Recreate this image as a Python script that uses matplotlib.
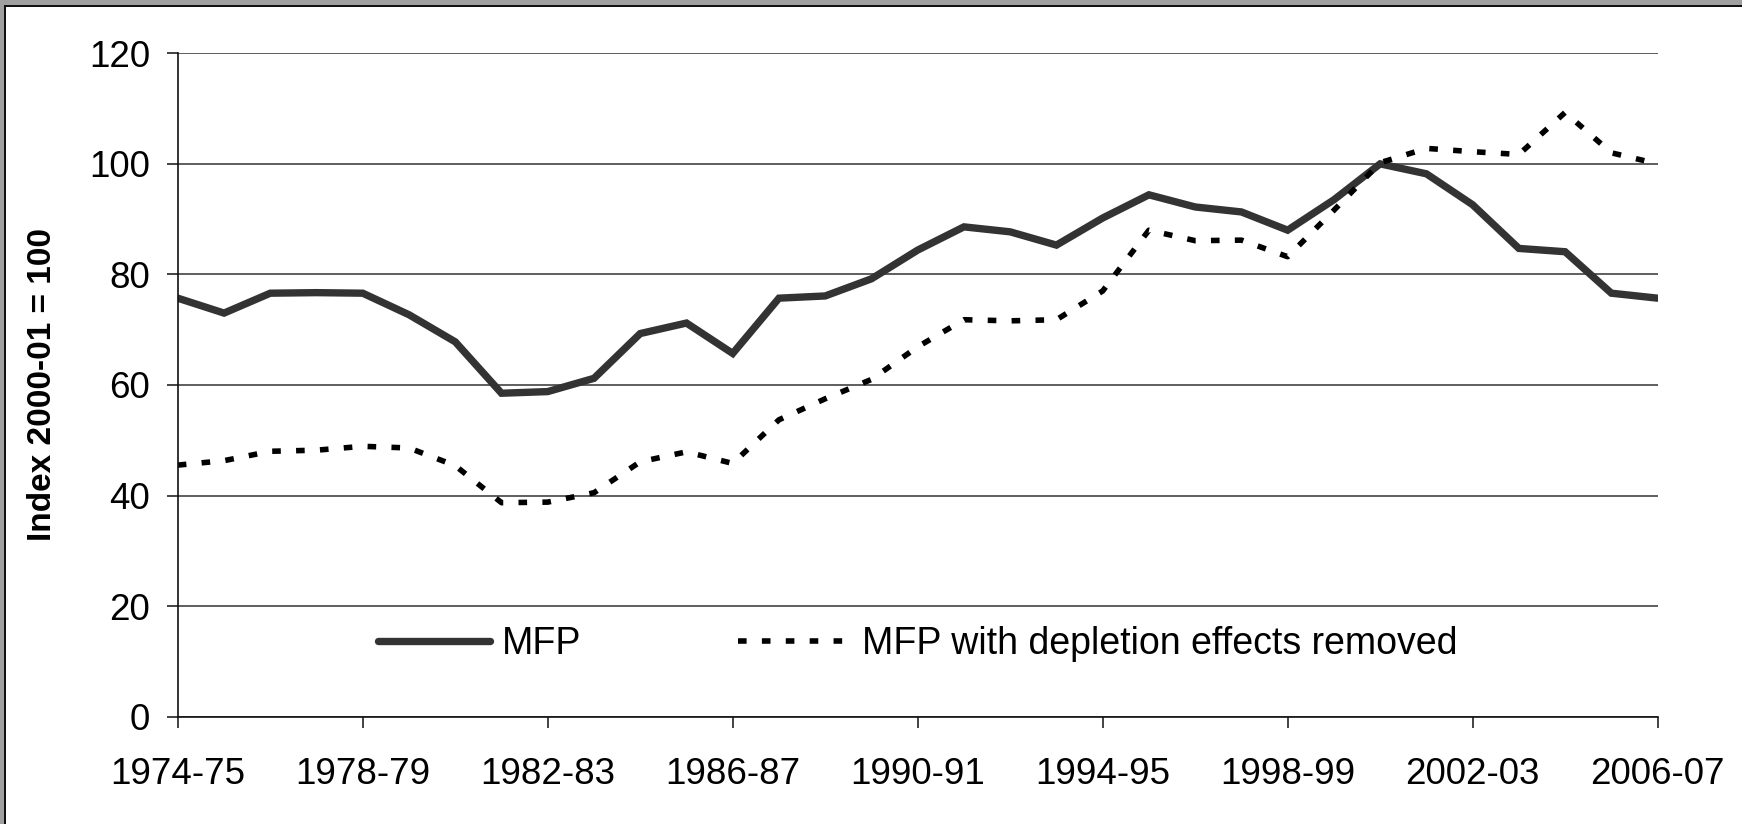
import matplotlib

matplotlib.use("Agg")

import matplotlib.pyplot as plt  # noqa: E402
from matplotlib.patches import Rectangle  # noqa: E402

plt.rcParams["font.family"] = ["Liberation Sans", "DejaVu Sans"]

# Financial years, one point per year (1974-75 .. 2006-07)
years = [f"{y}-{(y + 1) % 100:02d}" for y in range(1974, 2007)]

# Index 2000-01 = 100
mfp = [75.7, 73.0, 76.6, 76.7, 76.6, 72.7, 67.8, 58.5, 58.8, 61.2, 69.3,
       71.2, 65.7, 75.7, 76.1, 79.2, 84.4, 88.6, 87.7, 85.3, 90.2, 94.4,
       92.2, 91.3, 88.0, 93.5, 100.0, 98.2, 92.6, 84.7, 84.1, 76.6, 75.7]
mfp_no_depletion = [45.5, 46.3, 48.0, 48.2, 48.9, 48.6, 45.4, 38.7, 38.8,
                    40.5, 46.1, 47.9, 45.8, 53.7, 57.5, 61.0, 66.9, 71.8,
                    71.6, 71.8, 77.0, 88.0, 86.1, 86.2, 83.2, 91.6, 100.2,
                    102.8, 102.2, 101.7, 109.3, 102.0, 100.0]

y_ticks = [0, 20, 40, 60, 80, 100, 120]
tick_every = 4

fig = plt.figure(figsize=(17.42, 8.24), dpi=100)
fig.patch.set_facecolor("white")

# grey window frame on top/left like the screenshot
fig.add_artist(Rectangle((0, 1 - 5 / 824), 1, 5 / 824, transform=fig.transFigure,
                         facecolor="#a0a0a0", edgecolor="none"))
fig.add_artist(Rectangle((0, 1 - 7 / 824), 1, 2 / 824, transform=fig.transFigure,
                         facecolor="#111111", edgecolor="none"))
fig.add_artist(Rectangle((0, 0), 4 / 1742, 1, transform=fig.transFigure,
                         facecolor="#a0a0a0", edgecolor="none"))
fig.add_artist(Rectangle((4 / 1742, 0), 2 / 1742, 1 - 5 / 824, transform=fig.transFigure,
                         facecolor="#111111", edgecolor="none"))

ax = fig.add_axes([177.8 / 1742, 1 - 716.6 / 824, (1657.6 - 177.8) / 1742, (716.6 - 53.3) / 824])

x = list(range(len(years)))
ax.plot(x, mfp, color="#333333", linewidth=5.3, solid_capstyle="round",
        solid_joinstyle="miter", label="MFP")
ax.plot(x, mfp_no_depletion, color="black", linewidth=4.0, linestyle=(0, (1.55, 2.75)),
        dash_capstyle="butt", label="MFP with depletion effects removed")

ax.set_xlim(0, len(years) - 1)
ax.set_ylim(0, 120)
ax.set_xticks(x[::tick_every])
ax.set_xticklabels(years[::tick_every])
ax.set_yticks(y_ticks)

ax.grid(axis="y", color="#333333", linewidth=1.1)
ax.set_axisbelow(True)
for side in ("top", "right"):
    ax.spines[side].set_visible(False)
for side in ("left", "bottom"):
    ax.spines[side].set_linewidth(1.2)
    ax.spines[side].set_color("#111111")

ax.tick_params(axis="both", length=8, width=1.1, color="#111111", labelsize=26.5)
ax.tick_params(axis="x", pad=21)
ax.tick_params(axis="y", pad=12)

ax.set_ylabel("Index 2000-01 = 100", fontsize=24, fontweight="bold")
ax.yaxis.set_label_coords(-0.081, 0.5)

ax.legend(loc="center", bbox_to_anchor=(0.5, 0.109), ncol=2, frameon=False,
          fontsize=27, handlelength=3.0, handletextpad=0.3, columnspacing=4.2)

fig.savefig("out.png", dpi=100, facecolor="white")
plt.close(fig)
